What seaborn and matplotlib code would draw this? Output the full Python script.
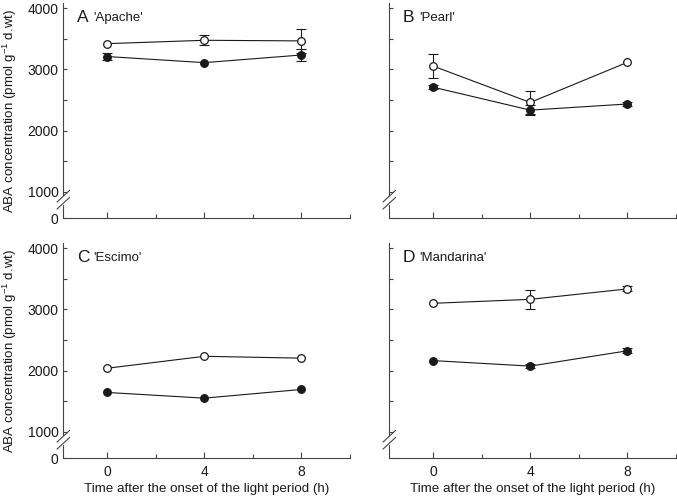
import numpy as np
import pandas as pd
import matplotlib
matplotlib.use("Agg")
import matplotlib.pyplot as plt
import seaborn as sns

# ---------------- data ----------------
times = [0, 4, 8]
cultivars = ["'Apache'", "'Pearl'", "'Escimo'", "'Mandarina'"]
letters = ["A", "B", "C", "D"]

open_vals = [
    [3420, 3475, 3465],
    [3055, 2460, 3115],
    [2040, 2235, 2205],
    [3100, 3165, 3335],
]
open_err = [
    [0, 85, 200],
    [190, 190, 0],
    [0, 0, 0],
    [0, 160, 40],
]
filled_vals = [
    [3210, 3110, 3235],
    [2710, 2335, 2435],
    [1645, 1552, 1694],
    [2165, 2075, 2325],
]
filled_err = [
    [50, 0, 100],
    [30, 80, 30],
    [0, 0, 0],
    [0, 30, 40],
]
ytick_vals = [1000, 2000, 3000, 4000]
ytick_labels = ["1000", "2000", "3000", "4000"]
xtick_vals = [0, 4, 8]

# ---------------- style ----------------
sns.set_style("ticks")
plt.rcParams["font.family"] = ["Liberation Sans", "DejaVu Sans"]
plt.rcParams["mathtext.fontset"] = "custom"
plt.rcParams["mathtext.rm"] = "Liberation Sans"
plt.rcParams["mathtext.it"] = "Liberation Sans:italic"
plt.rcParams["mathtext.default"] = "regular"

FG = "#1a1a1a"
SP = "#444444"
YBOT, YTOP = 570, 4080
XL, XR = -1.8, 10.0

fig = plt.figure(figsize=(6.77, 4.96), dpi=100)
positions = [
    [0.0935, 0.560, 0.4235, 0.4335],
    [0.575, 0.560, 0.4235, 0.4335],
    [0.0935, 0.076, 0.4235, 0.4335],
    [0.575, 0.076, 0.4235, 0.4335],
]

for i in range(4):
    ax = fig.add_axes(positions[i])
    df_o = pd.DataFrame({"time": times, "aba": open_vals[i]})
    df_f = pd.DataFrame({"time": times, "aba": filled_vals[i]})

    # error bars
    for vals, errs, z in [(open_vals[i], open_err[i], 2), (filled_vals[i], filled_err[i], 4)]:
        for t, v, e in zip(times, vals, errs):
            if e > 0:
                ax.errorbar([t], [v], yerr=[e], fmt="none", ecolor=FG,
                            elinewidth=0.8, capsize=3.5, capthick=0.8, zorder=z)

    sns.lineplot(data=df_o, x="time", y="aba", ax=ax, color=FG, linewidth=0.8,
                 marker="o", markersize=5.5, markerfacecolor="white",
                 markeredgecolor=FG, markeredgewidth=0.9, errorbar=None, zorder=3)
    sns.lineplot(data=df_f, x="time", y="aba", ax=ax, color=FG, linewidth=0.8,
                 marker="o", markersize=5.5, markerfacecolor=FG,
                 markeredgecolor=FG, markeredgewidth=0.9, errorbar=None, zorder=5)

    ax.set_xlim(XL, XR)
    ax.set_ylim(YBOT, YTOP)

    # ticks
    ax.set_xticks(xtick_vals)
    ax.set_xticks([2, 6, 10], minor=True)
    ax.set_yticks([YBOT] + ytick_vals)
    ax.set_yticks([1500, 2500, 3500], minor=True)
    left_col = i in (0, 2)
    bottom_row = i in (2, 3)
    if left_col:
        ax.set_yticklabels(["0"] + ytick_labels)
    else:
        ax.set_yticklabels([])
    if bottom_row:
        ax.set_xticklabels([str(t) for t in xtick_vals])
    else:
        ax.set_xticklabels([])
    ax.tick_params(axis="x", which="major", direction="in", length=4.5, width=0.8,
                   color=SP, labelsize=10, pad=4.5, labelcolor=FG)
    ax.tick_params(axis="x", which="minor", direction="in", length=3.2, width=0.8,
                   color=SP)
    ax.tick_params(axis="y", which="both", direction="in", length=3, width=0.8,
                   color=SP, labelsize=10, pad=3.5, labelcolor=FG)

    # spines with axis break
    for s in ["top", "right"]:
        ax.spines[s].set_visible(False)
    ax.spines["bottom"].set_color(SP)
    ax.spines["bottom"].set_linewidth(0.8)
    ax.spines["left"].set_color(SP)
    ax.spines["left"].set_linewidth(0.8)
    ax.spines["left"].set_bounds(955, YTOP)
    ytr = ax.get_yaxis_transform()
    ax.plot([0, 0], [YBOT, 790], transform=ytr, color=SP, lw=0.8, clip_on=False)
    dx = 0.022
    for cy in (930, 815):
        ax.plot([-dx, dx], [cy - 95, cy + 95], transform=ytr, color=SP,
                lw=0.8, clip_on=False)

    ax.set_xlabel("Time after the onset of the light period (h)" if bottom_row else "",
                  fontsize=9.6, color=FG, labelpad=3.5)
    ax.set_ylabel("ABA concentration (pmol g$^{-1}$ d.wt)" if left_col else "",
                  fontsize=9.6, color=FG, labelpad=6)

    ax.text(0.047, 0.97, letters[i], transform=ax.transAxes, fontsize=12.5,
            color=FG, va="top", ha="left")
    ax.text(0.105, 0.96, cultivars[i], transform=ax.transAxes, fontsize=9.5,
            color=FG, va="top", ha="left")

fig.savefig("out.png", dpi=100)
